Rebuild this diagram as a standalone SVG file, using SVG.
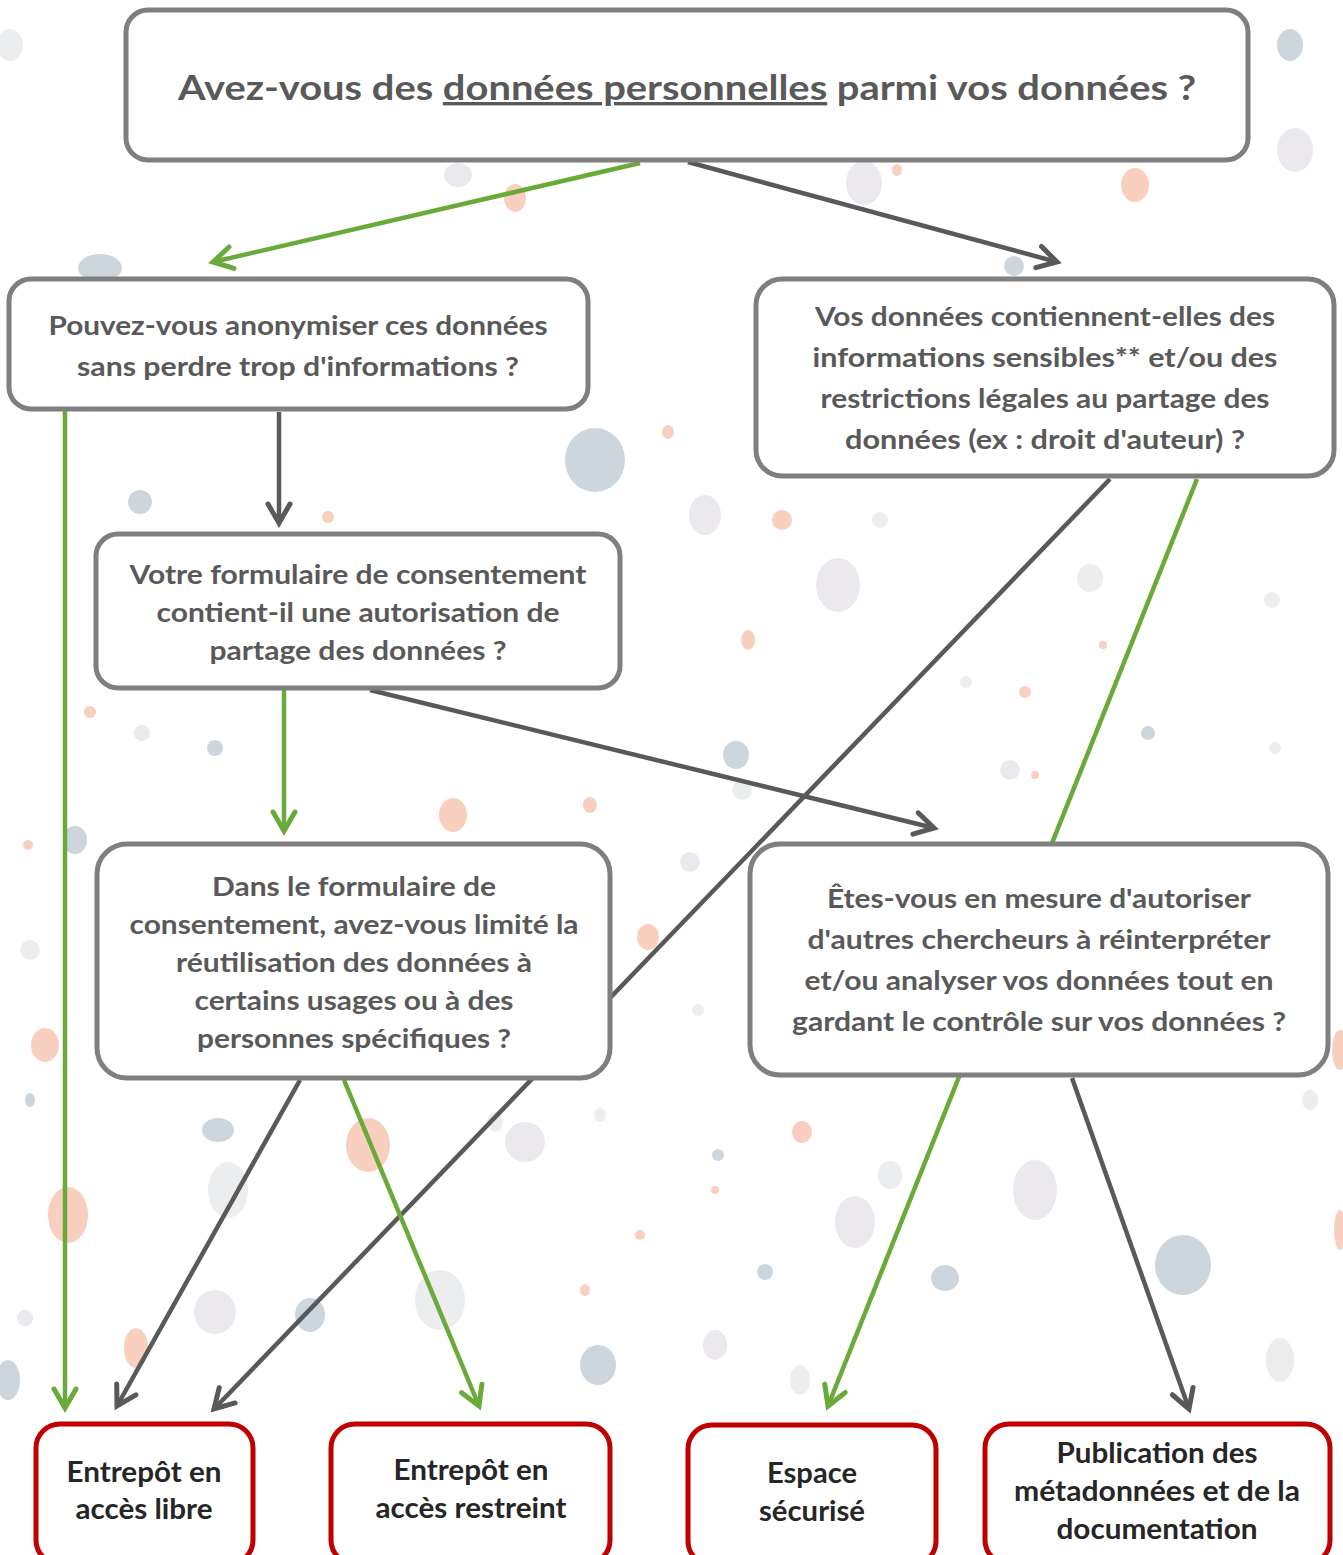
<svg xmlns="http://www.w3.org/2000/svg" width="1343" height="1555" viewBox="0 0 1343 1555">
<defs>
<style>
.q{fill:#ffffff;stroke:#7f7f7f;stroke-width:5}
.r{fill:#ffffff;stroke:#c00000;stroke-width:5}
.t{font-family:Lato,"Open Sans","Liberation Sans",sans-serif;font-weight:bold;font-size:27px;fill:#595959;text-anchor:middle}
.b{font-family:Lato,"Open Sans","Liberation Sans",sans-serif;font-weight:bold;font-size:28px;fill:#262626;text-anchor:middle}
.h{font-family:Lato,"Open Sans","Liberation Sans",sans-serif;font-weight:bold;font-size:34px;fill:#595959;text-anchor:middle}
.g{stroke:#6aaa3a;stroke-width:4.5;fill:none}
.d{stroke:#595959;stroke-width:4.5;fill:none}
.sb{fill:#aebbc6;opacity:.6}
.ss{fill:#f4a88c;opacity:.55}
.sl{fill:#e4dfe7;opacity:.7}
.sg{fill:#e3e6e8;opacity:.7}
</style>
<marker id="ag" markerUnits="userSpaceOnUse" orient="auto" markerWidth="40" markerHeight="40" refX="0" refY="0" viewBox="-25 -20 30 40" overflow="visible">
<path d="M-19,-11 L0,0 L-19,11" fill="none" stroke="#6aaa3a" stroke-width="5" stroke-linecap="round" stroke-linejoin="miter"/>
</marker>
<marker id="ad" markerUnits="userSpaceOnUse" orient="auto" markerWidth="40" markerHeight="40" refX="0" refY="0" viewBox="-25 -20 30 40" overflow="visible">
<path d="M-19,-11 L0,0 L-19,11" fill="none" stroke="#595959" stroke-width="5" stroke-linecap="round" stroke-linejoin="miter"/>
</marker>
</defs>
<rect width="1343" height="1555" fill="#ffffff"/>
<g id="background">
<ellipse class="sg" cx="10" cy="45" rx="13" ry="16"/>
<ellipse class="sb" cx="1290" cy="45" rx="13" ry="16"/>
<ellipse class="sl" cx="1295" cy="150" rx="18" ry="22"/>
<ellipse class="ss" cx="1135" cy="185" rx="14" ry="17"/>
<ellipse class="ss" cx="515" cy="198" rx="11" ry="14"/>
<ellipse class="sl" cx="458" cy="175" rx="14" ry="12"/>
<ellipse class="sl" cx="864" cy="183" rx="18" ry="22"/>
<ellipse class="ss" cx="897" cy="170" rx="5" ry="6"/>
<ellipse class="sb" cx="1014" cy="266" rx="10" ry="10"/>
<ellipse class="sb" cx="100" cy="268" rx="22" ry="14"/>
<ellipse class="sb" cx="595" cy="460" rx="30" ry="32"/>
<ellipse class="ss" cx="668" cy="432" rx="6" ry="7"/>
<ellipse class="sb" cx="140" cy="502" rx="12" ry="12"/>
<ellipse class="ss" cx="328" cy="517" rx="6" ry="6"/>
<ellipse class="sl" cx="705" cy="515" rx="16" ry="20"/>
<ellipse class="ss" cx="782" cy="520" rx="10" ry="10"/>
<ellipse class="sg" cx="880" cy="520" rx="8" ry="8"/>
<ellipse class="sl" cx="838" cy="585" rx="22" ry="27"/>
<ellipse class="sg" cx="1090" cy="578" rx="13" ry="14"/>
<ellipse class="sg" cx="1272" cy="600" rx="8" ry="8"/>
<ellipse class="ss" cx="748" cy="640" rx="7" ry="10"/>
<ellipse class="ss" cx="1103" cy="645" rx="4" ry="4"/>
<ellipse class="ss" cx="1025" cy="692" rx="6" ry="6"/>
<ellipse class="sb" cx="1148" cy="733" rx="7" ry="7"/>
<ellipse class="sg" cx="966" cy="682" rx="6" ry="6"/>
<ellipse class="sg" cx="1275" cy="748" rx="6" ry="6"/>
<ellipse class="sb" cx="736" cy="755" rx="13" ry="14"/>
<ellipse class="sg" cx="742" cy="790" rx="10" ry="10"/>
<ellipse class="sl" cx="1010" cy="770" rx="10" ry="10"/>
<ellipse class="ss" cx="1035" cy="775" rx="4" ry="4"/>
<ellipse class="ss" cx="90" cy="712" rx="6" ry="6"/>
<ellipse class="sl" cx="142" cy="733" rx="8" ry="8"/>
<ellipse class="sb" cx="215" cy="748" rx="8" ry="8"/>
<ellipse class="ss" cx="453" cy="815" rx="14" ry="17"/>
<ellipse class="ss" cx="590" cy="805" rx="7" ry="8"/>
<ellipse class="sb" cx="75" cy="840" rx="12" ry="14"/>
<ellipse class="ss" cx="28" cy="845" rx="5" ry="5"/>
<ellipse class="sl" cx="690" cy="862" rx="10" ry="10"/>
<ellipse class="ss" cx="648" cy="937" rx="11" ry="13"/>
<ellipse class="sg" cx="30" cy="950" rx="10" ry="10"/>
<ellipse class="sg" cx="698" cy="1010" rx="6" ry="6"/>
<ellipse class="ss" cx="45" cy="1045" rx="14" ry="17"/>
<ellipse class="ss" cx="1340" cy="1050" rx="8" ry="20"/>
<ellipse class="sg" cx="1300" cy="925" rx="8" ry="10"/>
<ellipse class="sb" cx="30" cy="1100" rx="5" ry="7"/>
<ellipse class="sb" cx="218" cy="1130" rx="16" ry="12"/>
<ellipse class="sg" cx="228" cy="1190" rx="20" ry="28"/>
<ellipse class="ss" cx="368" cy="1145" rx="22" ry="27"/>
<ellipse class="ss" cx="68" cy="1215" rx="20" ry="28"/>
<ellipse class="ss" cx="136" cy="1348" rx="12" ry="20"/>
<ellipse class="sl" cx="215" cy="1312" rx="21" ry="22"/>
<ellipse class="sb" cx="310" cy="1315" rx="15" ry="17"/>
<ellipse class="sg" cx="440" cy="1300" rx="25" ry="30"/>
<ellipse class="sg" cx="495" cy="1122" rx="8" ry="10"/>
<ellipse class="sl" cx="525" cy="1142" rx="20" ry="20"/>
<ellipse class="sg" cx="600" cy="1115" rx="6" ry="7"/>
<ellipse class="ss" cx="585" cy="1290" rx="5" ry="6"/>
<ellipse class="sb" cx="598" cy="1365" rx="18" ry="20"/>
<ellipse class="sb" cx="8" cy="1380" rx="12" ry="20"/>
<ellipse class="sl" cx="25" cy="1318" rx="8" ry="8"/>
<ellipse class="ss" cx="802" cy="1132" rx="10" ry="11"/>
<ellipse class="sb" cx="718" cy="1155" rx="6" ry="6"/>
<ellipse class="ss" cx="715" cy="1190" rx="4" ry="4"/>
<ellipse class="ss" cx="640" cy="1235" rx="5" ry="5"/>
<ellipse class="sb" cx="765" cy="1272" rx="8" ry="8"/>
<ellipse class="sl" cx="855" cy="1222" rx="20" ry="26"/>
<ellipse class="sg" cx="890" cy="1175" rx="12" ry="14"/>
<ellipse class="sb" cx="1183" cy="1265" rx="28" ry="30"/>
<ellipse class="sl" cx="1035" cy="1190" rx="22" ry="30"/>
<ellipse class="sg" cx="1280" cy="1360" rx="14" ry="22"/>
<ellipse class="sg" cx="1310" cy="1100" rx="8" ry="10"/>
<ellipse class="ss" cx="1340" cy="1230" rx="6" ry="20"/>
<ellipse class="sb" cx="945" cy="1278" rx="14" ry="13"/>
<ellipse class="sl" cx="715" cy="1345" rx="12" ry="15"/>
<ellipse class="sg" cx="800" cy="1380" rx="10" ry="15"/>
</g>
<g id="connectors">
<line class="g" x1="640" y1="163" x2="213" y2="262" marker-end="url(#ag)"/>
<line class="d" x1="688" y1="162" x2="1057" y2="262" marker-end="url(#ad)"/>
<line class="g" x1="65" y1="410" x2="65" y2="1408" marker-end="url(#ag)"/>
<line class="d" x1="279" y1="412" x2="279" y2="523" marker-end="url(#ad)"/>
<line class="g" x1="284" y1="690" x2="284" y2="831" marker-end="url(#ag)"/>
<line class="d" x1="370" y1="690" x2="934" y2="828" marker-end="url(#ad)"/>
<line class="d" x1="1110" y1="479" x2="214" y2="1409" marker-end="url(#ad)"/>
<line class="g" x1="1197" y1="479" x2="828" y2="1406" marker-end="url(#ag)"/>
<line class="d" x1="300" y1="1080" x2="117" y2="1406" marker-end="url(#ad)"/>
<line class="g" x1="344" y1="1080" x2="479" y2="1406" marker-end="url(#ag)"/>
<line class="d" x1="1072" y1="1078" x2="1189" y2="1409" marker-end="url(#ad)"/>
</g>
<g id="n-top">
<rect class="q" x="126" y="10" width="1122" height="150" rx="22"/>
<text class="h" x="687" y="100" textLength="1018" lengthAdjust="spacingAndGlyphs">Avez-vous des <tspan text-decoration="underline">données personnelles</tspan> parmi vos données ?</text>
</g>
<g id="n-anonymiser">
<rect class="q" x="9" y="279" width="579" height="130" rx="22"/>
<text class="t" x="298" y="335" textLength="499" lengthAdjust="spacingAndGlyphs">Pouvez-vous anonymiser ces données</text>
<text class="t" x="298" y="376" textLength="442" lengthAdjust="spacingAndGlyphs">sans perdre trop d'informations ?</text>
</g>
<g id="n-sensibles">
<rect class="q" x="756" y="279" width="578" height="197" rx="26"/>
<text class="t" x="1045" y="326" textLength="460" lengthAdjust="spacingAndGlyphs">Vos données contiennent-elles des</text>
<text class="t" x="1045" y="367" textLength="465" lengthAdjust="spacingAndGlyphs">informations sensibles** et/ou des</text>
<text class="t" x="1045" y="408" textLength="449" lengthAdjust="spacingAndGlyphs">restrictions légales au partage des</text>
<text class="t" x="1045" y="449" textLength="400" lengthAdjust="spacingAndGlyphs">données (ex : droit d'auteur) ?</text>
</g>
<g id="n-formulaire">
<rect class="q" x="96" y="534" width="524" height="154" rx="22"/>
<text class="t" x="358" y="584" textLength="457" lengthAdjust="spacingAndGlyphs">Votre formulaire de consentement</text>
<text class="t" x="358" y="622" textLength="403" lengthAdjust="spacingAndGlyphs">contient-il une autorisation de</text>
<text class="t" x="358" y="660" textLength="297" lengthAdjust="spacingAndGlyphs">partage des données ?</text>
</g>
<g id="n-limite">
<rect class="q" x="97" y="844" width="513" height="234" rx="30"/>
<text class="t" x="354" y="896" textLength="284" lengthAdjust="spacingAndGlyphs">Dans le formulaire de</text>
<text class="t" x="354" y="934" textLength="449" lengthAdjust="spacingAndGlyphs">consentement, avez-vous limité la</text>
<text class="t" x="354" y="972" textLength="356" lengthAdjust="spacingAndGlyphs">réutilisation des données à</text>
<text class="t" x="354" y="1010" textLength="319" lengthAdjust="spacingAndGlyphs">certains usages ou à des</text>
<text class="t" x="354" y="1048" textLength="314" lengthAdjust="spacingAndGlyphs">personnes spécifiques ?</text>
</g>
<g id="n-autoriser">
<rect class="q" x="750" y="844" width="578" height="231" rx="30"/>
<text class="t" x="1039" y="908" textLength="424" lengthAdjust="spacingAndGlyphs">Êtes-vous en mesure d'autoriser</text>
<text class="t" x="1039" y="949" textLength="463" lengthAdjust="spacingAndGlyphs">d'autres chercheurs à réinterpréter</text>
<text class="t" x="1039" y="990" textLength="469" lengthAdjust="spacingAndGlyphs">et/ou analyser vos données tout en</text>
<text class="t" x="1039" y="1031" textLength="494" lengthAdjust="spacingAndGlyphs">gardant le contrôle sur vos données ?</text>
</g>
<g id="n-libre">
<rect class="r" x="36" y="1424" width="217" height="140" rx="24"/>
<text class="b" x="144" y="1482" textLength="155" lengthAdjust="spacingAndGlyphs">Entrepôt en</text>
<text class="b" x="144" y="1519" textLength="137" lengthAdjust="spacingAndGlyphs">accès libre</text>
</g>
<g id="n-restreint">
<rect class="r" x="331" y="1424" width="279" height="140" rx="24"/>
<text class="b" x="471" y="1480" textLength="155" lengthAdjust="spacingAndGlyphs">Entrepôt en</text>
<text class="b" x="471" y="1518" textLength="191" lengthAdjust="spacingAndGlyphs">accès restreint</text>
</g>
<g id="n-securise">
<rect class="r" x="688" y="1425" width="248" height="140" rx="24"/>
<text class="b" x="812" y="1483" textLength="90" lengthAdjust="spacingAndGlyphs">Espace</text>
<text class="b" x="812" y="1521" textLength="106" lengthAdjust="spacingAndGlyphs">sécurisé</text>
</g>
<g id="n-publication">
<rect class="r" x="985" y="1424" width="345" height="140" rx="24"/>
<text class="b" x="1157" y="1463" textLength="201" lengthAdjust="spacingAndGlyphs">Publication des</text>
<text class="b" x="1157" y="1501" textLength="286" lengthAdjust="spacingAndGlyphs">métadonnées et de la</text>
<text class="b" x="1157" y="1539" textLength="201" lengthAdjust="spacingAndGlyphs">documentation</text>
</g>
</svg>
